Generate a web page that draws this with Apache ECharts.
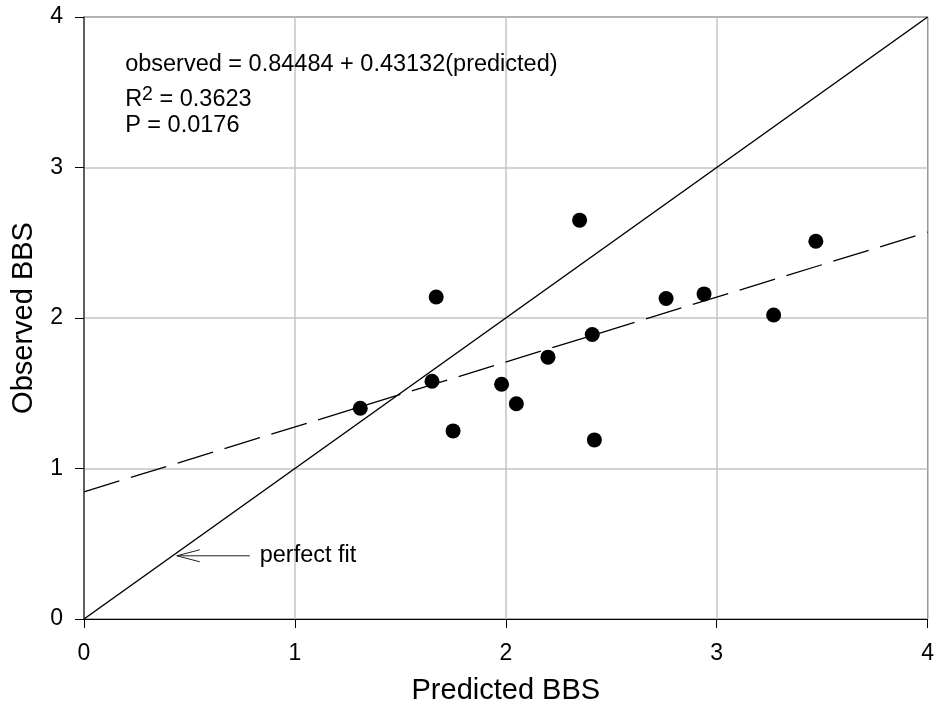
<!DOCTYPE html>
<html>
<head>
<meta charset="utf-8">
<title>Observed vs Predicted BBS</title>
<script src="https://cdn.jsdelivr.net/npm/echarts@6/dist/echarts.min.js"></script>
<style>
  html, body { margin: 0; padding: 0; background: #fff; }
  #chart { width: 937px; height: 711px; }
</style>
</head>
<body>
<div id="chart"></div>
<script>
// Measured scores: one point per subject
const predicted = [1.31, 1.65, 1.67, 1.75, 1.98, 2.05, 2.20, 2.35, 2.41, 2.42, 2.76, 2.94, 3.27, 3.47];
const observed  = [1.40, 1.58, 2.14, 1.25, 1.56, 1.43, 1.74, 2.65, 1.89, 1.19, 2.13, 2.16, 2.02, 2.51];

// Least-squares fit reported on the chart
const fitIntercept = 0.84484;
const fitSlope = 0.43132;
const rSquared = '0.3623';
const pValue = '0.0176';

// Axis range and tick labels (both axes share 0..4)
const axisMin = 0;
const axisMax = 4;
const tickLabels = ['0', '1', '2', '3', '4'];

// Identity (perfect-fit) reference line end points
const identityLine = [[0, 0], [4, 4]];

const FONT = '"Liberation Sans", Arial, Helvetica, sans-serif';

const points = predicted.map((x, i) => [x, observed[i]]);
const fitLine = [axisMin, axisMax].map(x => [x, fitIntercept + fitSlope * x]);

// Text anchors in data coordinates
const eqAnchor = [0.195, 3.685];
const r2Anchor = [0.195, 3.46];
const pAnchor = [0.195, 3.28];
const perfectFitText = [0.833, 0.42];
const arrowTail = [0.786, 0.42];
const arrowTip = [0.44, 0.42];

const chart = echarts.init(document.getElementById('chart'), null, { renderer: 'canvas' });

const axisCommon = {
  type: 'value',
  min: axisMin,
  max: axisMax,
  interval: 1,
  axisLine: { show: true, lineStyle: { color: '#000', width: 1 } },
  axisTick: { show: true, inside: false, length: 9, lineStyle: { color: '#000', width: 1 } },
  splitLine: { show: true, lineStyle: { color: '#c4c4c4', width: 1.5 } },
  nameLocation: 'middle',
  nameTextStyle: { fontFamily: FONT, fontSize: 29, color: '#000' }
};

const labelFmt = v => tickLabels[Math.round(v - axisMin)];

chart.setOption({
  animation: false,
  backgroundColor: '#fff',
  grid: {
    left: 84, right: 7, top: 17, bottom: 92,
    show: true, borderColor: '#000', borderWidth: 1,
    containLabel: false
  },
  xAxis: Object.assign({}, axisCommon, {
    name: 'Predicted BBS',
    nameGap: 57,
    axisLabel: { formatter: labelFmt, fontFamily: FONT, fontSize: 23, color: '#000', margin: 23 }
  }),
  yAxis: Object.assign({}, axisCommon, {
    name: 'Observed BBS',
    nameGap: 46,
    axisLine: { show: true, lineStyle: { color: '#444', width: 1.5 } },
    axisLabel: { formatter: labelFmt, fontFamily: FONT, fontSize: 23, color: '#000', margin: 21 }
  }),
  series: [
    {
      name: 'perfect fit',
      type: 'line',
      data: identityLine,
      showSymbol: false,
      symbol: 'none',
      lineStyle: { color: '#000', width: 1.5, type: 'solid' },
      z: 3
    },
    {
      name: 'regression',
      type: 'line',
      data: fitLine,
      showSymbol: false,
      symbol: 'none',
      lineStyle: { color: '#000', width: 1.3, type: [37, 12] },
      z: 3
    },
    {
      name: 'subjects',
      type: 'scatter',
      data: points,
      symbol: 'circle',
      symbolSize: 15,
      itemStyle: { color: '#000', opacity: 1 },
      z: 5
    },
    {
      name: 'notes',
      type: 'scatter',
      symbolSize: 0,
      silent: true,
      z: 6,
      itemStyle: { color: '#000', opacity: 1 },
      label: {
        show: true,
        position: 'right',
        distance: 0,
        fontFamily: FONT,
        fontSize: 23.5,
        color: '#000',
        opacity: 1
      },
      data: [
        { value: eqAnchor, label: { formatter: 'observed = ' + fitIntercept + ' + ' + fitSlope + '(predicted)' } },
        {
          value: r2Anchor,
          label: {
            formatter: '{r|R}{s|2}{r| = ' + rSquared + '}',
            rich: {
              r: { fontFamily: FONT, fontSize: 23.5, lineHeight: 27, color: '#000', verticalAlign: 'bottom' },
              s: { fontFamily: FONT, fontSize: 19.5, lineHeight: 19, color: '#000', verticalAlign: 'top' }
            }
          }
        },
        { value: pAnchor, label: { formatter: 'P = ' + pValue } },
        { value: perfectFitText, label: { formatter: 'perfect fit' } }
      ]
    }
  ]
});

// Open arrowhead pointing at the identity line
function drawArrow() {
  const tail = chart.convertToPixel({ gridIndex: 0 }, arrowTail);
  const tip = chart.convertToPixel({ gridIndex: 0 }, arrowTip);
  const headLen = 23, headHalf = 6;
  chart.setOption({
    graphic: [
      {
        type: 'line', z: 7, silent: true,
        shape: { x1: tail[0], y1: tail[1], x2: tip[0], y2: tip[1] },
        style: { stroke: '#222', lineWidth: 1 }
      },
      {
        type: 'polyline', z: 7, silent: true,
        shape: { points: [[tip[0] + headLen, tip[1] - headHalf], [tip[0], tip[1]], [tip[0] + headLen, tip[1] + headHalf]] },
        style: { stroke: '#222', lineWidth: 1, fill: null }
      }
    ]
  });
}
drawArrow();
</script>
</body>
</html>
